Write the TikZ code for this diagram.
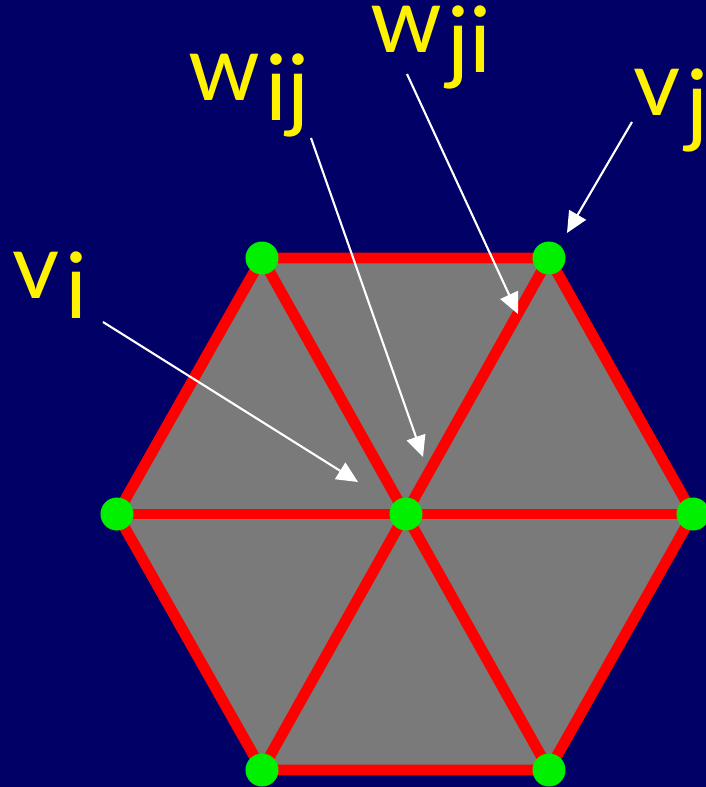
\documentclass[tikz,border=0pt]{standalone}
\usepackage{fontspec}
\setmainfont{Lato}
\usepackage{tikz}
\usetikzlibrary{arrows.meta, positioning}
\definecolor{navy}{RGB}{0,0,102}
\definecolor{meshgray}{RGB}{122,122,122}
\definecolor{dotgreen}{RGB}{0,240,0}
\newcommand{\lowsub}[2]{#1\kern1.5pt\raisebox{-5.8pt}{#2}}

\begin{document}
\begin{tikzpicture}[x=0.01cm, y=-0.01cm,
    edge/.style={red, line width=3.1pt, line join=round},
    vert/.style={circle, fill=dotgreen, minimum size=0.33cm, inner sep=0},
    lbl/.style={text=yellow, font=\fontsize{26}{30}\selectfont, anchor=base west, inner sep=0},
    pointer/.style={white, line width=0.6pt, -{Triangle[length=6pt, width=5.5pt]}}]
    \fill[navy] (0,0) rectangle (706,787);
    \useasboundingbox (0,0) rectangle (706,787);
    % vertices of the hexagon
    \coordinate (c) at (406,514);
    \coordinate (tl) at (262,258);
    \coordinate (tr) at (549,258);
    \coordinate (r) at (693,514);
    \coordinate (br) at (549,770);
    \coordinate (bl) at (262,770);
    \coordinate (l) at (117,514);
    \fill[meshgray] (tl) -- (tr) -- (r) -- (br) -- (bl) -- (l) -- cycle;
    \draw[edge] (tl) -- (tr) -- (r) -- (br) -- (bl) -- (l) -- cycle;
    \draw[edge] (tl) -- (br);
    \draw[edge] (tr) -- (bl);
    \draw[edge] (l) -- (r);
    % labels
    \node[lbl] (wij) at (188,100) {\lowsub{w}{ij}};
    \node[lbl] (wji) at (370,52) {\lowsub{w}{ji}};
    \node[lbl] (vj) at (633,115) {\lowsub{v}{j}};
    \node[lbl] (vi) at (12,298) {\lowsub{v}{i}};
    % arrows
    \coordinate (wij-from) at (311,138);
    \coordinate (wij-to) at (423,457);
    \coordinate (wji-from) at (407,74);
    \coordinate (wji-to) at (518,314);
    \coordinate (vj-from) at (632,122);
    \coordinate (vj-to) at (567,233);
    \coordinate (vi-from) at (103,322);
    \coordinate (vi-to) at (358,482);
    \draw[pointer] (wij-from) -- (wij-to);
    \draw[pointer] (wji-from) -- (wji-to);
    \draw[pointer] (vj-from) -- (vj-to);
    \draw[pointer] (vi-from) -- (vi-to);
    % dots
    \foreach \p in {c, tl, tr, r, br, bl, l}
        \node[vert] at (\p) {};
\end{tikzpicture}
\end{document}
